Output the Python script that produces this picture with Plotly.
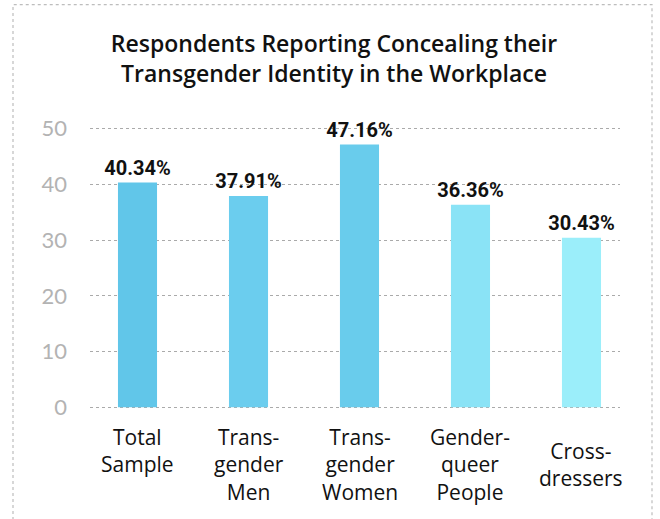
import plotly.graph_objects as go

# Chart data
categories = ["Total Sample", "Transgender Men", "Transgender Women",
              "Genderqueer People", "Crossdressers"]
tick_labels = ["Total<br>Sample", "Trans-<br>gender<br>Men", "Trans-<br>gender<br>Women",
               "Gender-<br>queer<br>People", "Cross-<br>dressers"]
values = [40.34, 37.91, 47.16, 36.36, 30.43]
bar_colors = ["#61C6E9", "#6BCDEE", "#69CCEC", "#8AE3F6", "#9BEEFA"]
y_ticks = [0, 10, 20, 30, 40, 50]

W, H = 660, 519
L, R = 90, 620          # plot area horizontal extent (px)
T, B = 126.2, 409.8     # plot area vertical extent (px)

fig = go.Figure()
fig.add_trace(go.Bar(
    x=categories,
    y=values,
    width=0.352,
    marker=dict(color=bar_colors, line=dict(width=0)),
    text=[f"{v:.2f}%" for v in values],
    textposition="outside",
    constraintext="none",
    cliponaxis=False,
    textfont=dict(family="Roboto, sans-serif", size=20, color="#111111", weight="bold"),
    hoverinfo="skip",
))

# Category labels under each bar; two-line labels are centred on the three-line block
for cat, lab in zip(categories, tick_labels):
    n_lines = lab.count("<br>") + 1
    shift = -14 if (n_lines == 3 or lab.startswith("Total")) else -28
    fig.add_annotation(
        x=cat, y=0, xref="x", yref="y", text=lab, showarrow=False,
        yanchor="top", xanchor="center", yshift=shift, align="center",
        font=dict(family="Open Sans, Lato, sans-serif", size=21, color="#111111"),
    )

# Dotted frame around the whole graphic
pw, ph = R - L, B - T
fig.add_shape(
    type="rect", xref="paper", yref="paper",
    x0=(13 - L) / pw, x1=(652 - L) / pw,
    y0=(B - 530) / ph, y1=(B - 5) / ph,
    line=dict(color="#BDBDBD", width=1.2, dash="dot"),
    fillcolor="rgba(0,0,0,0)", layer="below",
)

fig.update_layout(
    width=W, height=H,
    margin=dict(l=L, r=W - R, t=T, b=H - B, pad=0),
    paper_bgcolor="white", plot_bgcolor="white",
    showlegend=False,
    title=dict(
        text="Respondents Reporting Concealing their<br>Transgender Identity in the Workplace",
        x=334 / W, xanchor="center", y=1 - 52 / H, yanchor="top",
        font=dict(family="Open Sans, Lato, sans-serif", size=23, color="#111111", weight=600),
    ),
    xaxis=dict(
        range=[-0.428, 4.347], showticklabels=False, showgrid=False,
        zeroline=False, showline=False, ticks="", fixedrange=True,
    ),
    yaxis=dict(
        range=[-0.5, 50.5], tickvals=y_ticks, showgrid=True,
        gridcolor="#AAAAAA", gridwidth=1.2, griddash="3px,3px",
        zeroline=False, showline=False, ticks="",
        ticklabelstandoff=22,
        tickfont=dict(family="Lato, Open Sans, sans-serif", size=22, color="#B3B3B3"),
        fixedrange=True,
    ),
)

fig.write_html("out.html")
